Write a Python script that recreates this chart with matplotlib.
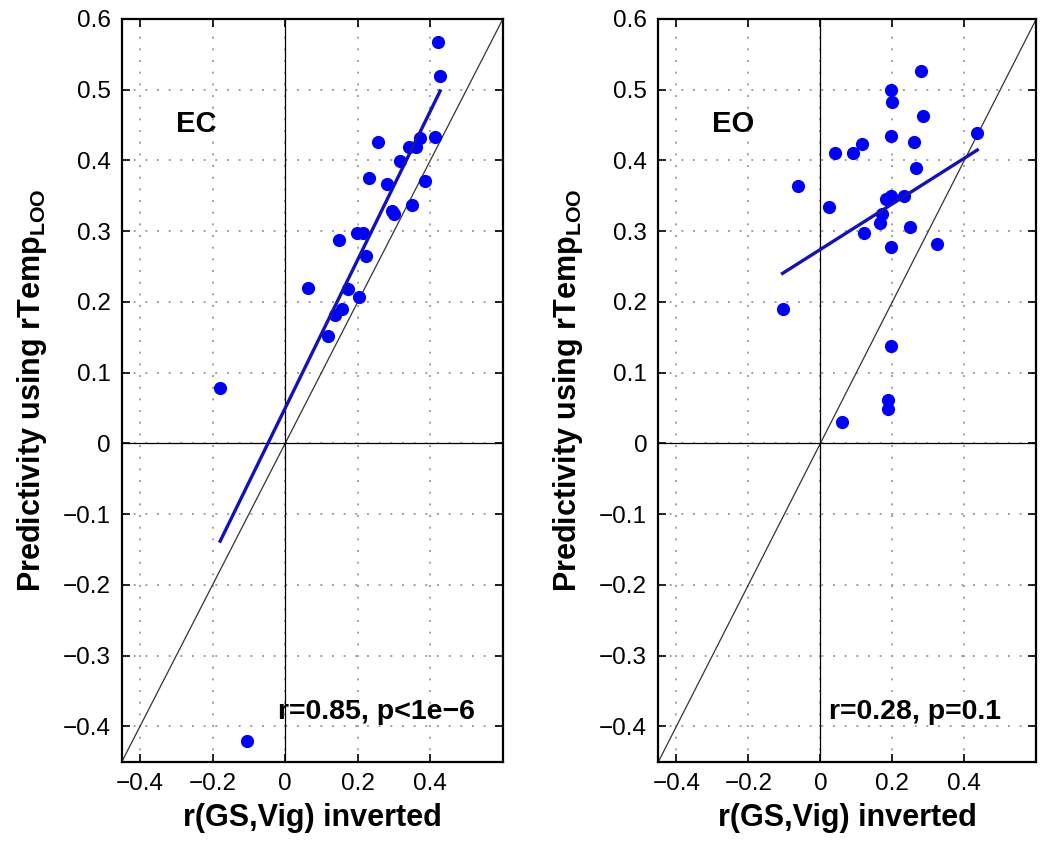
import numpy as np
import matplotlib.pyplot as plt

plt.rcParams['font.family'] = ['Liberation Sans', 'DejaVu Sans']
plt.rcParams['mathtext.fontset'] = 'custom'
plt.rcParams['mathtext.rm'] = 'Liberation Sans'
plt.rcParams['mathtext.bf'] = 'Liberation Sans:bold'

# EC (eyes closed)
ec_x = [0.420, 0.427, 0.414, 0.255, 0.371, 0.361, 0.341, 0.317, 0.232, 0.280,
        0.385, 0.293, 0.301, 0.349, 0.147, 0.198, 0.214, 0.223, 0.063, 0.173,
        0.203, 0.156, 0.138, 0.119, -0.179, -0.106]
ec_y = [0.567, 0.519, 0.433, 0.426, 0.432, 0.419, 0.419, 0.399, 0.375, 0.366,
        0.371, 0.329, 0.324, 0.337, 0.288, 0.298, 0.298, 0.265, 0.220, 0.218,
        0.207, 0.190, 0.182, 0.152, 0.079, -0.420]

# EO (eyes open)
eo_x = [0.280, 0.195, 0.200, 0.285, 0.195, 0.260, 0.116, 0.092, 0.042, 0.267,
        -0.063, 0.195, 0.183, 0.232, 0.023, 0.171, 0.165, 0.250, 0.121, 0.195,
        0.323, -0.105, 0.195, 0.189, 0.189, 0.061, 0.436]
eo_y = [0.526, 0.500, 0.483, 0.462, 0.435, 0.426, 0.423, 0.410, 0.410, 0.389,
        0.364, 0.350, 0.346, 0.350, 0.334, 0.324, 0.312, 0.306, 0.297, 0.278,
        0.282, 0.190, 0.138, 0.061, 0.048, 0.030, 0.439]

panels = ['EC', 'EO']
stats = ['r=0.85, p<1e\u22126', 'r=0.28, p=0.1']

xticks = [-0.4, -0.2, 0, 0.2, 0.4]
xtick_labels = ['\u22120.4', '\u22120.2', '0', '0.2', '0.4']
yticks = [-0.4, -0.3, -0.2, -0.1, 0, 0.1, 0.2, 0.3, 0.4, 0.5, 0.6]
ytick_labels = ['\u22120.4', '\u22120.3', '\u22120.2', '\u22120.1', '0',
                '0.1', '0.2', '0.3', '0.4', '0.5', '0.6']
lims = (-0.45, 0.6)

fig = plt.figure(figsize=(10.5, 8.56), dpi=100)
ax_pos = [[0.116, 0.110, 0.363, 0.868], [0.627, 0.110, 0.360, 0.868]]

for pos, name, stat, xs, ys in zip(ax_pos, panels, stats, [ec_x, eo_x], [ec_y, eo_y]):
    ax = fig.add_axes(pos)
    xs = np.array(xs)
    ys = np.array(ys)

    # grid, identity and zero lines
    ax.grid(True, color='#a0a0a0', linestyle=(0, (1, 5)), linewidth=1.4)
    ax.set_axisbelow(True)
    ax.plot(lims, lims, color='#333333', lw=0.9, zorder=2)
    ax.axhline(0, color='black', lw=0.9, zorder=2)
    ax.axvline(0, color='black', lw=0.9, zorder=2)

    ax.plot(xs, ys, 'o', color='#0000ff', ms=9.5, mec='none', zorder=3)

    # least squares fit
    k, b = np.polyfit(xs, ys, 1)
    fx = np.array([xs.min(), xs.max()])
    ax.plot(fx, k * fx + b, color='#1212b8', lw=2.4, zorder=4)

    ax.text(-0.30, 0.452, name, fontsize=21, fontweight='bold', va='center', ha='left')
    x0 = -0.02 if name == 'EC' else 0.023
    ax.text(x0, -0.38, stat, fontsize=20.5, fontweight='bold', va='center', ha='left')

    ax.set_xlim(lims)
    ax.set_ylim(lims)
    ax.set_xticks(xticks)
    ax.set_xticklabels(xtick_labels)
    ax.set_yticks(yticks)
    ax.set_yticklabels(ytick_labels)
    ax.tick_params(direction='in', length=6, width=1.2, top=True, right=True,
                   labelsize=17.5, pad=8)
    for sp in ax.spines.values():
        sp.set_linewidth(1.6)

    ax.set_xlabel('r(GS,Vig) inverted', fontsize=22, fontweight='bold', labelpad=6)
    ax.set_ylabel(r'Predictivity using rTemp$_{\mathbf{LOO}}$', fontsize=22,
                  fontweight='bold', labelpad=10)

fig.savefig('out.png', dpi=100)
